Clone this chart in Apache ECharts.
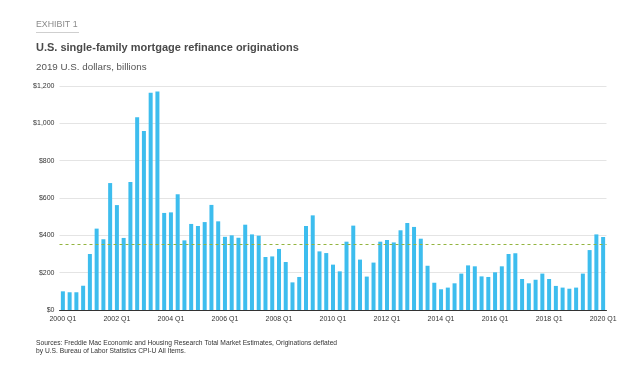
<!DOCTYPE html>
<html>
<head>
<meta charset="utf-8">
<script src="https://cdn.jsdelivr.net/npm/echarts@6/dist/echarts.min.js"></script>
<style>html,body{margin:0;padding:0;background:#fff}#c{width:640px;height:387px}</style>
</head>
<body>
<div id="c"></div>
<script>
const quarters = [];
for (let y = 2000; y <= 2020; y++) { for (let q = 1; q <= 4; q++) { if (y === 2020 && q > 1) break; quarters.push(y + ' Q' + q); } }
const values = [
  100, 95, 95, 130, 300, 436, 379, 680, 562, 386,
  686, 1032, 959, 1164, 1170, 520, 523, 620, 373, 461,
  450, 471, 563, 475, 392, 400, 387, 457, 405, 398,
  284, 287, 327, 257, 148, 177, 450, 507, 314, 305,
  243, 207, 366, 452, 270, 179, 254, 366, 375, 362,
  427, 466, 445, 382, 237, 146, 111, 120, 143, 195,
  239, 234, 180, 177, 202, 234, 300, 304, 166, 143,
  162, 195, 166, 129, 120, 114, 120, 195, 321, 405, 391
];
const averageLine = 350;

const FONT = "'Liberation Sans', Arial, sans-serif";
const chart = echarts.init(document.getElementById('c'), null, {renderer: 'canvas'});
chart.setOption({
  animation: false,
  backgroundColor: '#fff',
  title: [
    {text: 'EXHIBIT 1', left: 36, top: 20, padding: 0, textStyle: {fontFamily: FONT, fontSize: 8.8, fontWeight: 'normal', color: '#8a8a8a'}},
    {text: 'U.S. single-family mortgage refinance originations', left: 36, top: 42, padding: 0, textStyle: {fontFamily: FONT, fontSize: 11, fontWeight: 'bold', color: '#4a4a4a'}},
    {text: '2019 U.S. dollars, billions', left: 36, top: 62.5, padding: 0, textStyle: {fontFamily: FONT, fontSize: 9.8, fontWeight: 'normal', color: '#555'}},
    {text: 'Sources: Freddie Mac Economic and Housing Research Total Market Estimates, Originations deflated\nby U.S. Bureau of Labor Statistics CPI-U All Items.', left: 36, top: 339, padding: 0, textStyle: {fontFamily: FONT, fontSize: 6.7, fontWeight: 'normal', color: '#333', lineHeight: 8.4}}
  ],
  graphic: [
    {type: 'line', shape: {x1: 36, y1: 32.5, x2: 79, y2: 32.5}, style: {stroke: '#cfcfcf', lineWidth: 1}}
  ],
  grid: {left: 59.5, right: 33.5, top: 86, bottom: 77, containLabel: false},
  xAxis: {
    type: 'category',
    data: quarters,
    axisLine: {lineStyle: {color: '#333', width: 1}},
    axisTick: {alignWithLabel: true, interval: 3, length: 3, lineStyle: {color: '#333'}},
    axisLabel: {interval: 7, fontFamily: FONT, fontSize: 7, color: '#333', margin: 6}
  },
  yAxis: {
    type: 'value', min: 0, max: 1200, interval: 200,
    axisLine: {show: false}, axisTick: {show: false},
    axisLabel: {fontFamily: FONT, fontSize: 7, color: '#333', margin: 5,
      formatter: v => '$' + v.toLocaleString('en-US')},
    splitLine: {lineStyle: {color: '#e4e4e4', width: 1}}
  },
  series: [{
    type: 'bar',
    data: values,
    barWidth: 4,
    itemStyle: {color: '#3dbdee'},
    markLine: {
      silent: true, symbol: 'none', label: {show: false},
      lineStyle: {type: [3, 3], color: '#93b43f', width: 1},
      data: [{yAxis: averageLine}]
    }
  }]
});
</script>
</body>
</html>
